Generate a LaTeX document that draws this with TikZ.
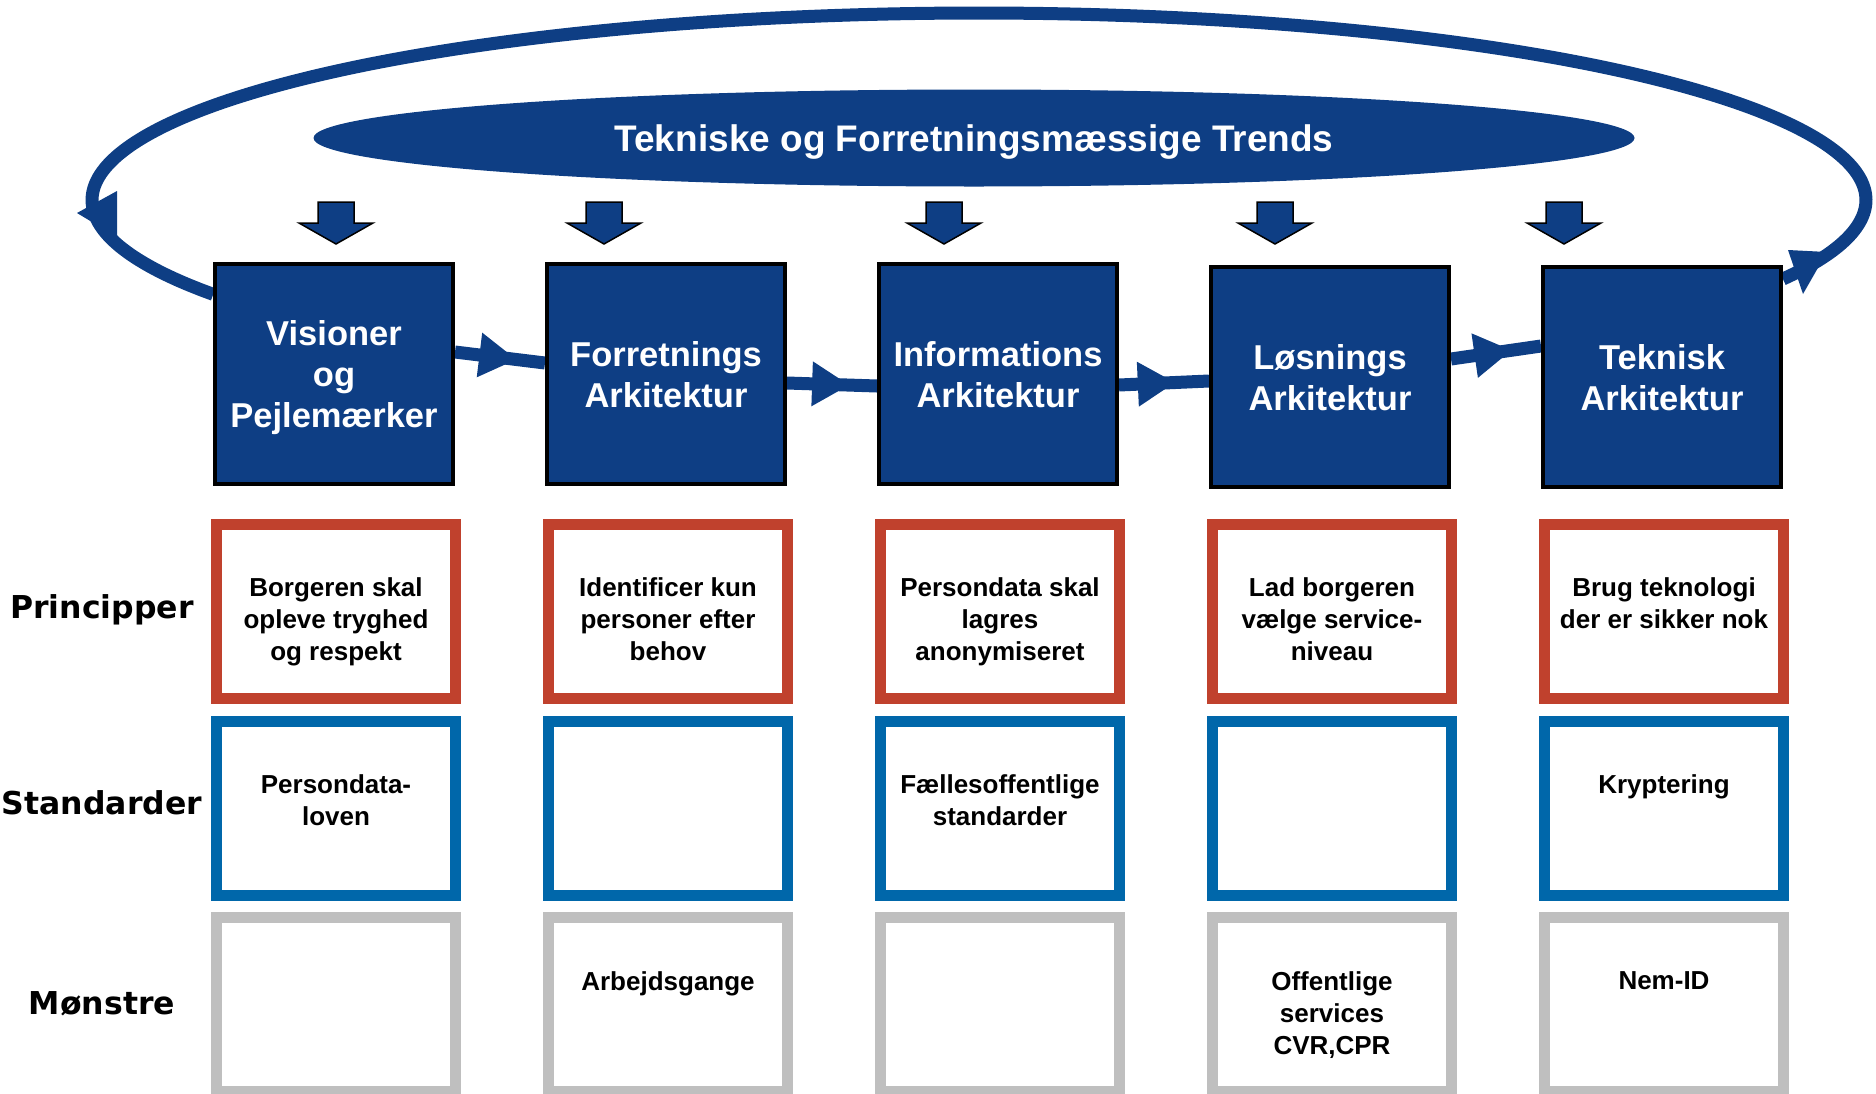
\documentclass[tikz,border=0pt]{standalone}
\usepackage{fontspec}
\setmainfont{Liberation Sans}
\newfontfamily\rowfont{DejaVu Sans}
\usetikzlibrary{calc,shapes.geometric,decorations.markings,backgrounds}
\definecolor{navy}{RGB}{14,62,132}
\definecolor{prinred}{RGB}{192,65,45}
\definecolor{stdblue}{RGB}{0,103,170}
\definecolor{mgray}{RGB}{191,191,191}
\tikzset{
  mainbox/.style={draw=black, line width=4pt, fill=navy, minimum width=238pt, minimum height=220pt, inner sep=0pt, text=white, align=center, text depth=0pt, font=\bfseries\fontsize{34.5}{41}\selectfont},
  lowbox/.style={draw=#1, line width=11pt, fill=white, minimum width=239pt, minimum height=174pt, inner sep=0pt},
  lowtxt/.style={anchor=north, inner sep=0pt, align=center, text=black, font=\bfseries\fontsize{26}{32}\selectfont},
  rowlbl/.style={anchor=base, inner sep=0pt, text=black, font=\rowfont\bfseries\fontsize{31.5}{38}\selectfont},
  conn/.style={draw=navy, line width=13pt},
  midtip/.style={postaction={decorate}, decoration={markings, mark=at position #1 with {\fill[navy] (0pt,0pt) -- (-37pt,22.5pt) -- (-37pt,-22.5pt) -- cycle;}}},
  trendarrow/.pic={\draw[fill=navy, draw=black, line width=1.5pt, line join=miter] (-18pt,0pt) -- (18pt,0pt) -- (18pt,-21pt) -- (37pt,-21pt) -- (0pt,-42pt) -- (-37pt,-21pt) -- (-18pt,-21pt) -- cycle;},
}
\begin{document}
\begin{tikzpicture}[x=1pt,y=-1pt]
\useasboundingbox (0,0) rectangle (1876,1093);

% title ellipse
\node[ellipse, fill=navy, minimum width=1321pt, minimum height=97pt, inner sep=0pt, text=white, text depth=0pt, font=\bfseries\fontsize{37}{44}\selectfont] (trend) at (974,138) {Tekniske og Forretningsmæssige Trends};

% trend arrows
\pic at (336,202) {trendarrow};
\pic at (604,202) {trendarrow};
\pic at (944,202) {trendarrow};
\pic at (1275,202) {trendarrow};
\pic at (1564,202) {trendarrow};

% main boxes
\node[mainbox] (b1) at (334,374) {Visioner\\og\\Pejlemærker};
\node[mainbox] (b2) at (666,374) {Forretnings\\Arkitektur};
\node[mainbox] (b3) at (998,374) {Informations\\Arkitektur};
\node[mainbox] (b4) at (1330,377) {Løsnings\\Arkitektur};
\node[mainbox] (b5) at (1662,377) {Teknisk\\Arkitektur};

% connectors
\begin{scope}[on background layer]
\draw[conn] plot[domain=-25:210.3, samples=160, smooth] ({979+887*cos(\x)},{200-187*sin(\x)});
\fill[navy] (1827,252) -- (1788,250) -- (1803,294) -- cycle;
\fill[navy] (77,213) -- (117,191) -- (117,237) -- cycle;
\draw[conn, midtip=0.68] ($(b1.east)+(0,-22)$) -- ($(b2.west)+(0,-11)$);
\draw[conn, midtip=0.69] ($(b2.east)+(0,9)$) -- ($(b3.west)+(0,12)$);
\draw[conn, midtip=0.62] ($(b3.east)+(0,11)$) -- ($(b4.west)+(0,4)$);
\draw[conn, midtip=0.67] ($(b4.east)+(0,-18)$) -- ($(b5.west)+(0,-31)$);
\end{scope}

% row labels
\node[rowlbl] (lp) at (102,618) {Principper};
\node[rowlbl] (ls) at (102,814) {Standarder};
\node[rowlbl] (lm) at (102,1014) {Mønstre};

% principle boxes
\node[lowbox=prinred] (p1) at (336,611.5) {};
\node[lowbox=prinred] (p2) at (668,611.5) {};
\node[lowbox=prinred] (p3) at (1000,611.5) {};
\node[lowbox=prinred] (p4) at (1332,611.5) {};
\node[lowbox=prinred] (p5) at (1664,611.5) {};
% standard boxes
\node[lowbox=stdblue] (s1) at (336,808.5) {};
\node[lowbox=stdblue] (s2) at (668,808.5) {};
\node[lowbox=stdblue] (s3) at (1000,808.5) {};
\node[lowbox=stdblue] (s4) at (1332,808.5) {};
\node[lowbox=stdblue] (s5) at (1664,808.5) {};
% pattern boxes
\node[lowbox=mgray] (m1) at (336,1004.5) {};
\node[lowbox=mgray] (m2) at (668,1004.5) {};
\node[lowbox=mgray] (m3) at (1000,1004.5) {};
\node[lowbox=mgray] (m4) at (1332,1004.5) {};
\node[lowbox=mgray] (m5) at (1664,1004.5) {};

% texts
\node[lowtxt] (p1t) at ($(p1.north)+(0,58)$) {Borgeren skal\\opleve tryghed\\og respekt};
\node[lowtxt] (p2t) at ($(p2.north)+(0,58)$) {Identificer kun\\personer efter\\behov};
\node[lowtxt] (p3t) at ($(p3.north)+(0,58)$) {Persondata skal\\lagres\\anonymiseret};
\node[lowtxt] (p4t) at ($(p4.north)+(0,58)$) {Lad borgeren\\vælge service-\\niveau};
\node[lowtxt] (p5t) at ($(p5.north)+(0,58)$) {Brug teknologi\\der er sikker nok};

\node[lowtxt] (s1t) at ($(s1.north)+(0,58)$) {Persondata-\\loven};
\node[lowtxt] (s3t) at ($(s3.north)+(0,58)$) {Fællesoffentlige\\standarder};
\node[lowtxt] (s5t) at ($(s5.north)+(0,58)$) {Kryptering};

\node[lowtxt] (m2t) at ($(m2.north)+(0,59)$) {Arbejdsgange};
\node[lowtxt] (m4t) at ($(m4.north)+(0,59)$) {Offentlige\\services\\CVR,CPR};
\node[lowtxt] (m5t) at ($(m5.north)+(0,59)$) {Nem-ID};
\end{tikzpicture}
\end{document}
